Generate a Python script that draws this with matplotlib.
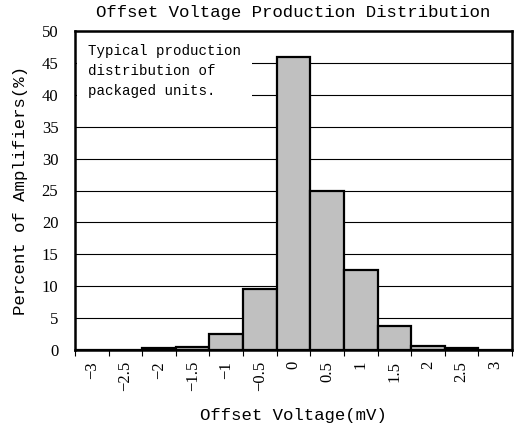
"""
Offset voltage production distribution histogram (category-style x axis).
"""

import matplotlib
matplotlib.use("Agg")
import matplotlib.pyplot as plt
import numpy as np

# categories (bin labels, mV) and percent of units in each bin
categories = ["−3", "−2.5", "−2", "−1.5", "−1", "−0.5", "0", "0.5", "1", "1.5", "2", "2.5", "3"]
percent = [0.0, 0.0, 0.3, 0.5, 2.5, 9.6, 45.9, 25.0, 12.5, 3.7, 0.7, 0.25, 0.0]
y_ticks = [0, 5, 10, 15, 20, 25, 30, 35, 40, 45, 50]

MONO = "Liberation Mono"
SERIF = "Liberation Serif"

fig = plt.figure(figsize=(5.14, 4.30), dpi=100, facecolor="white")
ax = fig.add_axes([75 / 514, 1 - 350 / 430, 437 / 514, 319 / 430])

pos = np.arange(len(categories))
ax.bar(pos, percent, width=1.0, color="#c0c0c0", edgecolor="black",
       linewidth=1.6, zorder=3)

ax.set_xlim(-0.5, len(categories) - 0.5)
ax.set_ylim(0, 50)
ax.set_yticks(y_ticks)
ax.set_yticklabels([str(v) for v in y_ticks], fontfamily=SERIF, fontsize=12)
ax.tick_params(axis="y", length=0, pad=12)

# labels sit in the middle of each slot, tick marks on the slot boundaries
ax.set_xticks(pos)
ax.set_xticklabels(categories, fontfamily=SERIF, fontsize=12, rotation=90)
ax.set_xticks(np.arange(len(categories) + 1) - 0.5, minor=True)
ax.tick_params(axis="x", which="major", length=0, pad=8)
ax.tick_params(axis="x", which="minor", direction="out", length=4.5, width=0.8)

ax.yaxis.grid(True, color="black", linewidth=0.8, zorder=0)
ax.set_axisbelow(True)
for s in ax.spines.values():
    s.set_linewidth(1.8)
    s.set_color("black")

ax.set_title("Offset Voltage Production Distribution", fontfamily=MONO,
             fontsize=12.5, pad=10)
ax.set_xlabel("Offset Voltage(mV)", fontfamily=MONO, fontsize=12.5, labelpad=12)
ax.set_ylabel("Percent of Amplifiers(%)", fontfamily=MONO, fontsize=12.5, labelpad=10)

ax.text(13 / 437, 1 - 13 / 319, "Typical production\ndistribution of\npackaged units.",
        transform=ax.transAxes, ha="left", va="top", fontfamily=MONO,
        fontsize=10.2, linespacing=1.55, zorder=5,
        bbox=dict(facecolor="white", edgecolor="none", pad=8))

fig.savefig("out.png", dpi=100, facecolor="white")
